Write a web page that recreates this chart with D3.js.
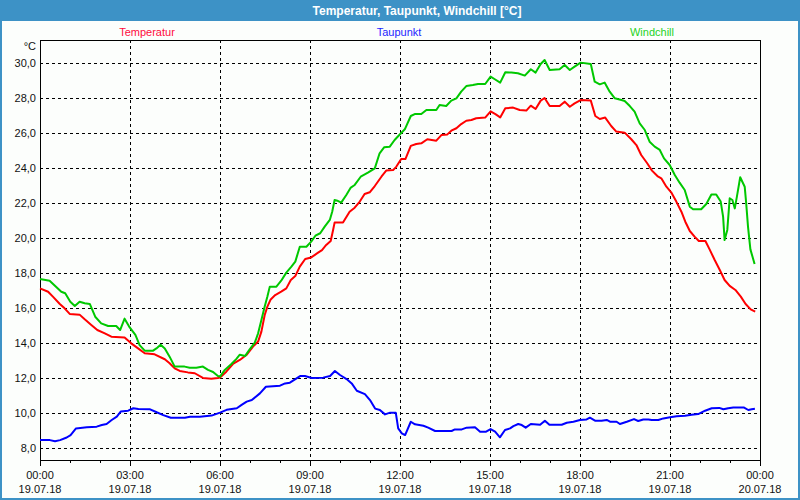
<!DOCTYPE html>
<html>
<head>
<meta charset="utf-8">
<script src="https://cdn.jsdelivr.net/npm/d3@7"></script>
<style>
  body { margin: 0; background: #fff; }
  svg { display: block; font-family: "Liberation Sans", Arial, sans-serif; }
</style>
</head>
<body>
<div id="chart"></div>
<script>
// values: [hour, °C]
var temperatur = [[0,17.14],[0.27,16.95],[0.43,16.67],[0.66,16.25],[0.82,16.0],[0.99,15.68],[1.32,15.64],[1.49,15.37],[1.71,15.05],[1.91,14.76],[2.16,14.57],[2.38,14.38],[2.82,14.34],[3.04,14.0],[3.27,13.71],[3.49,13.43],[3.82,13.37],[4.16,13.09],[4.32,12.86],[4.49,12.57],[4.66,12.42],[4.93,12.34],[5.16,12.29],[5.43,12.02],[5.71,11.98],[5.93,12.02],
  [6.0,12.05],[6.21,12.38],[6.43,12.82],[6.66,13.05],[6.88,13.33],[7.1,13.81],[7.27,14.1],[7.38,14.67],[7.49,15.62],[7.58,16.1],[7.69,16.51],[7.84,16.76],[8.04,16.95],[8.21,17.14],[8.36,17.62],[8.51,17.85],[8.66,18.38],[8.84,18.82],[9.04,18.91],[9.27,19.18],[9.4,19.33],[9.54,19.62],[9.69,19.85],[9.77,20.48],[9.82,20.9],[10.1,20.9],[10.32,21.52],[10.49,21.75],[10.66,22.1],[10.82,22.53],[10.99,22.63],[11.16,22.99],[11.38,23.52],[11.54,23.87],[11.77,23.9],[11.88,24.1],
  [12.04,24.53],[12.18,24.53],[12.36,25.28],[12.54,25.39],[12.71,25.43],[12.91,25.66],[13.21,25.58],[13.38,25.9],[13.58,25.94],[13.71,26.15],[13.88,26.29],[14.04,26.53],[14.21,26.72],[14.38,26.76],[14.54,26.86],[14.84,26.9],[15.02,27.26],[15.18,27.1],[15.34,26.91],[15.51,27.43],[15.77,27.47],[15.99,27.33],[16.21,27.3],[16.36,27.58],[16.52,27.39],[16.69,27.87],[16.82,28.02],[16.99,27.56],[17.32,27.56],[17.49,27.81],[17.66,27.52],[17.82,27.71],[18.02,27.9],
  [18.36,27.87],[18.51,26.99],[18.66,26.82],[18.84,26.9],[19.04,26.42],[19.21,26.1],[19.49,26.04],[19.71,25.66],[19.88,25.33],[20.04,24.76],[20.24,24.29],[20.4,23.87],[20.58,23.56],[20.71,23.43],[20.88,22.95],[21.04,22.63],[21.21,22.1],[21.38,21.52],[21.51,20.95],[21.66,20.42],[21.82,20.1],[21.96,19.85],[22.18,19.85],[22.32,19.37],[22.49,18.76],[22.66,18.19],[22.82,17.62],[22.99,17.28],[23.18,17.05],[23.36,16.67],[23.52,16.25],[23.69,15.94],[23.84,15.81]];

var taupunkt = [[0,8.47],[0.33,8.47],[0.5,8.41],[0.67,8.47],[0.89,8.62],[1.02,8.76],[1.2,9.14],[1.56,9.2],[1.89,9.24],[2.06,9.33],[2.22,9.39],[2.39,9.62],[2.56,9.81],[2.69,10.1],[2.94,10.15],[3.11,10.29],[3.28,10.25],[3.67,10.23],[3.89,10.06],[4.11,9.9],[4.36,9.75],[4.83,9.75],[5.0,9.81],[5.33,9.81],[5.72,9.87],
  [6.0,10.04],[6.22,10.2],[6.56,10.29],[6.72,10.48],[6.89,10.67],[7.06,10.76],[7.33,11.14],[7.53,11.52],[8.0,11.58],[8.17,11.71],[8.33,11.75],[8.5,11.94],[8.67,12.13],[8.83,12.13],[9.06,12.02],[9.44,12.04],[9.67,12.13],[9.83,12.42],[10.0,12.19],[10.22,11.96],[10.39,11.71],[10.56,11.29],[10.83,11.1],[11.0,10.76],[11.17,10.27],[11.33,10.19],[11.5,9.94],[11.67,10.04],[11.86,10.03],[11.94,9.14],
  [12.06,8.86],[12.17,8.76],[12.36,9.52],[12.5,9.37],[12.78,9.29],[12.94,9.18],[13.17,8.99],[13.72,8.99],[13.83,9.08],[14.06,9.08],[14.22,9.18],[14.5,9.2],[14.67,8.95],[14.87,8.95],[15.02,9.1],[15.17,8.95],[15.33,8.63],[15.5,9.05],[15.67,9.14],[15.78,9.27],[15.94,9.39],[16.06,9.33],[16.19,9.18],[16.36,9.39],[16.67,9.35],[16.83,9.58],[16.98,9.35],[17.39,9.35],[17.56,9.46],[17.78,9.52],
  [18.0,9.62],[18.22,9.65],[18.33,9.75],[18.5,9.58],[18.72,9.58],[18.89,9.62],[19.0,9.52],[19.22,9.52],[19.33,9.39],[19.56,9.52],[19.8,9.67],[19.94,9.56],[20.11,9.65],[20.28,9.65],[20.39,9.62],[20.61,9.62],[20.78,9.71],[21.0,9.77],[21.22,9.83],[21.5,9.86],[21.72,9.92],[21.94,9.96],[22.17,10.15],[22.39,10.29],[22.64,10.31],[22.78,10.23],[22.94,10.29],[23.11,10.33],[23.47,10.33],[23.61,10.19],[23.72,10.23],[23.83,10.26]];

var windchill = [[0,17.68],[0.32,17.58],[0.71,16.95],[0.84,16.86],[1.01,16.38],[1.16,16.13],[1.32,16.38],[1.49,16.29],[1.66,16.25],[1.84,15.52],[2.04,15.14],[2.27,14.99],[2.54,14.99],[2.67,14.76],[2.82,15.41],[2.99,14.91],[3.18,14.48],[3.32,13.9],[3.49,13.58],[3.77,13.58],[3.88,13.71],[4.02,13.92],[4.16,13.71],[4.32,13.24],[4.49,12.67],[4.82,12.67],[4.99,12.61],[5.21,12.61],[5.43,12.67],[5.6,12.48],[5.77,12.36],[5.93,12.13],
  [6.0,12.1],[6.16,12.48],[6.38,12.82],[6.54,13.1],[6.66,13.35],[6.84,13.28],[6.99,13.66],[7.16,14.04],[7.27,14.57],[7.38,15.33],[7.49,16.1],[7.58,16.67],[7.66,17.24],[7.88,17.24],[8.04,17.58],[8.21,18.04],[8.38,18.38],[8.51,18.67],[8.66,19.52],[8.88,19.52],[9.04,19.81],[9.18,20.15],[9.34,20.29],[9.49,20.67],[9.66,21.05],[9.74,21.52],[9.82,22.19],[9.91,22.15],[10.04,22.04],[10.21,22.48],[10.36,22.9],[10.49,23.05],[10.69,23.52],[10.93,23.75],[11.16,24.0],[11.32,24.86],[11.47,25.2],[11.66,25.24],[11.82,25.62],
  [12.0,25.95],[12.16,26.23],[12.36,26.99],[12.49,27.1],[12.71,27.1],[12.88,27.33],[13.21,27.33],[13.32,27.62],[13.54,27.56],[13.71,27.87],[13.88,28.0],[14.04,28.38],[14.21,28.7],[14.43,28.76],[14.6,28.82],[14.84,28.82],[15.02,29.24],[15.16,29.09],[15.34,28.9],[15.51,29.49],[15.71,29.47],[15.93,29.43],[16.16,29.3],[16.36,29.66],[16.52,29.47],[16.69,29.96],[16.82,30.19],[16.99,29.62],[17.32,29.66],[17.49,29.9],[17.66,29.62],[17.82,29.81],[18.02,30.04],
  [18.36,29.96],[18.49,28.95],[18.66,28.8],[18.82,28.9],[18.99,28.38],[19.16,28.0],[19.38,27.9],[19.49,27.85],[19.66,27.56],[19.82,27.24],[19.99,26.57],[20.16,26.19],[20.32,25.52],[20.49,25.24],[20.66,25.05],[20.8,24.57],[20.99,24.19],[21.16,23.62],[21.32,23.18],[21.49,22.76],[21.66,21.81],[21.77,21.66],[22.04,21.66],[22.21,21.96],[22.38,22.51],[22.54,22.51],[22.69,22.1],[22.77,21.24],[22.82,19.9],[22.91,20.48],[22.99,22.29],[23.08,22.19],[23.16,21.71],[23.23,22.38],[23.34,23.49],[23.49,22.95],[23.54,22.0],[23.6,20.67],[23.68,19.37],[23.82,18.53]];

var yTicks = [8, 10, 12, 14, 16, 18, 20, 22, 24, 26, 28, 30];
var xTickHours = [0, 3, 6, 9, 12, 15, 18, 21, 24];
var xTickTimes = ["00:00", "03:00", "06:00", "09:00", "12:00", "15:00", "18:00", "21:00", "00:00"];
var xTickDates = ["19.07.18", "19.07.18", "19.07.18", "19.07.18", "19.07.18", "19.07.18", "19.07.18", "19.07.18", "20.07.18"];
var seriesNames = ["Temperatur", "Taupunkt", "Windchill"];

var W = 800, H = 500;
var margin = {top: 40, right: 40, bottom: 40, left: 40},
    width = W - margin.left - margin.right,
    height = H - margin.top - margin.bottom;
var colors = {Temperatur: "#ff0000", Taupunkt: "#0000ff", Windchill: "#00c800"};
var labelColors = {Temperatur: "#ff0a3c", Taupunkt: "#1e1eff", Windchill: "#1ed21e"};

var svg = d3.select("#chart").append("svg").attr("width", W).attr("height", H);

// window frame + title bar
svg.append("rect").attr("width", W).attr("height", H).attr("fill", "#fcfefc");
svg.append("rect").attr("width", W).attr("height", 21).attr("fill", "#3d92c6");
svg.append("rect").attr("x", 1).attr("y", 1).attr("width", W - 2).attr("height", H - 2)
    .attr("fill", "none").attr("stroke", "#3d92c6").attr("stroke-width", 2);
svg.append("text").attr("x", 417).attr("y", 15).attr("text-anchor", "middle")
    .attr("fill", "#fff").style("font-weight", "bold").style("font-size", "12px")
    .text("Temperatur, Taupunkt, Windchill [°C]");

// legend labels above the plot
var legendX = [147, 399, 652];
svg.selectAll(".legend").data(seriesNames).enter().append("text")
    .attr("x", function(d, i) { return legendX[i]; })
    .attr("y", 36).attr("text-anchor", "middle").style("font-size", "11px")
    .attr("fill", function(d) { return labelColors[d]; })
    .text(function(d) { return d; });

var g = svg.append("g").attr("transform", "translate(" + margin.left + "," + margin.top + ")");

var x = d3.scaleLinear().domain([0, 24]).range([0, width]);
var y = d3.scaleLinear().domain([7 + 1 / 3, 31 + 1 / 3]).range([height, 0]);

var locale = d3.formatLocale({decimal: ",", thousands: ".", grouping: [3], currency: ["", "€"]});
var fmt = locale.format(".1f");

// horizontal grid
g.append("g").attr("class", "grid")
    .call(d3.axisLeft(y).tickValues(yTicks).tickSize(-width).tickFormat(""))
    .call(function(a) { a.select(".domain").remove(); });
// vertical grid
g.append("g").attr("class", "grid").attr("transform", "translate(0," + height + ")")
    .call(d3.axisBottom(x).tickValues([3, 6, 9, 12, 15, 18, 21]).tickSize(height).tickFormat(""))
    .call(function(a) { a.select(".domain").remove(); })
    .selectAll("line").attr("transform", "translate(0," + (-height) + ")");
g.selectAll(".grid line").attr("stroke", "#000").attr("stroke-dasharray", "3,3")
    .attr("shape-rendering", "crispEdges");

// y labels
g.selectAll(".ylab").data(yTicks).enter().append("text")
    .attr("x", -4).attr("y", function(d) { return y(d); }).attr("dy", "0.35em")
    .attr("text-anchor", "end").style("font-size", "11px").attr("fill", "#111")
    .text(function(d) { return fmt(d); });
g.append("text").attr("x", -4).attr("y", 6).attr("dy", "0.35em").attr("text-anchor", "end")
    .style("font-size", "11px").attr("fill", "#111").text("°C");

// x axis ticks (hourly minor, 3-hourly major)
var hours = d3.range(0, 25);
g.append("g").attr("transform", "translate(0," + height + ")").selectAll("line")
    .data(hours).enter().append("line")
    .attr("x1", function(d) { return x(d); }).attr("x2", function(d) { return x(d); })
    .attr("y1", 0).attr("y2", function(d) { return d % 3 === 0 ? 6 : 3; })
    .attr("stroke", "#000").attr("shape-rendering", "crispEdges");

var xl = g.selectAll(".xlab").data(xTickHours).enter().append("text")
    .attr("text-anchor", "middle").style("font-size", "11px").attr("fill", "#111");
xl.append("tspan").attr("x", function(d) { return x(d); }).attr("y", height + 19)
    .text(function(d, i) { return xTickTimes[i]; });
xl.append("tspan").attr("x", function(d) { return x(d); }).attr("y", height + 33)
    .text(function(d, i) { return xTickDates[i]; });

// plot border
g.append("rect").attr("width", width).attr("height", height).attr("fill", "none")
    .attr("stroke", "#000").attr("shape-rendering", "crispEdges");

// lines
var line = d3.line().x(function(d) { return x(d[0]); }).y(function(d) { return y(d[1]); });
var data = {Temperatur: temperatur, Taupunkt: taupunkt, Windchill: windchill};
["Taupunkt", "Temperatur", "Windchill"].forEach(function(name) {
    g.append("path").datum(data[name]).attr("d", line)
        .attr("fill", "none").attr("stroke", colors[name]).attr("stroke-width", 2)
        .attr("stroke-linejoin", "round");
});
</script>
</body>
</html>
